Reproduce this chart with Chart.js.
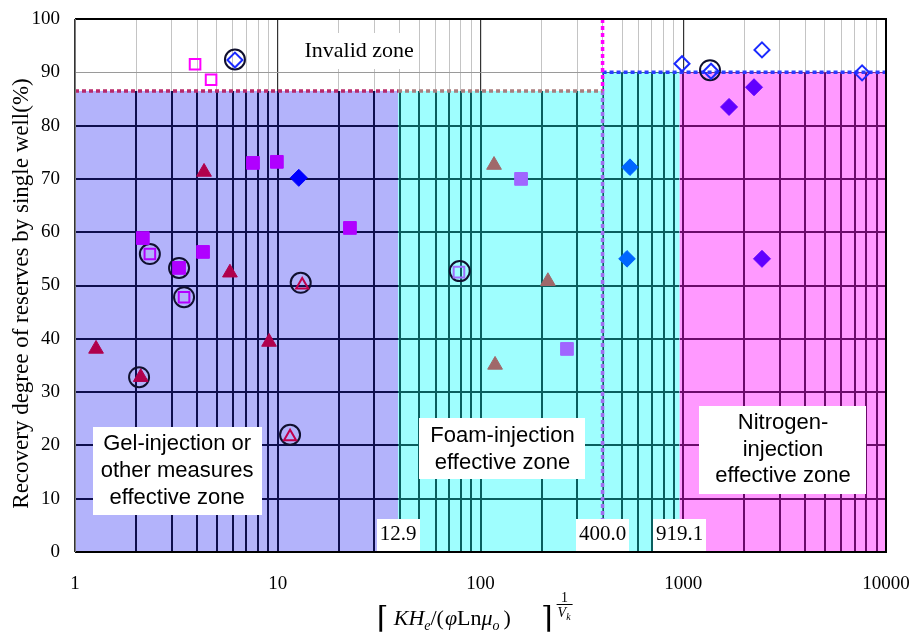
<!DOCTYPE html>
<html>
<head>
<meta charset="utf-8">
<script src="https://cdn.jsdelivr.net/npm/chart.js@4.4.1/dist/chart.umd.min.js"></script>
<style>
  html, body { margin: 0; padding: 0; background: #fff; }
</style>
</head>
<body>
<canvas id="recoveryChart" width="910" height="636"></canvas>
<script>
// ---- data ----
// x = [KHe/(phi Ln mu_o)]^(1/Vk), y = recovery degree (%)
const triFilledX  = [1.27, 2.11, 4.33, 5.81, 9.06];
const triFilledY  = [38.1, 32.8, 71.3, 52.4, 39.4];
const triBrownX   = [116.6, 215, 118];
const triBrownY   = [72.6, 50.8, 35.1];
const triOpenX    = [13.2, 11.5];
const triOpenY    = [50.1, 21.6];
const sqFilledX   = [2.16, 4.28, 3.26, 7.55, 9.9, 22.7];
const sqFilledY   = [58.9, 56.3, 53.3, 73.0, 73.2, 60.8];
const sqLightX    = [158.5, 267];
const sqLightY    = [70.0, 38.1];
const sqOpenPinkX = [3.91, 4.69];
const sqOpenPinkY = [91.5, 88.6];
const sqOpenX     = [2.34, 3.45];
const sqOpenY     = [55.9, 47.8];
const sqOpenLightX = [78.3];
const sqOpenLightY = [52.5];
const dmBlueX     = [12.7];
const dmBlueY     = [70.2];
const dmAzureX    = [546, 528];
const dmAzureY    = [72.2, 55.0];
const dmVioletX   = [1682, 2234, 2445];
const dmVioletY   = [83.5, 87.2, 55.0];
const dmOpenX     = [6.15, 986, 2445, 1371, 7620];
const dmOpenY     = [92.3, 91.6, 94.2, 90.2, 89.9];
const ringX       = [2.07, 2.34, 3.26, 3.45, 12.98, 11.5, 6.15, 79, 1355];
const ringY       = [32.8, 55.9, 53.3, 47.8, 50.5, 22.0, 92.4, 52.7, 90.4];

// zones: edges on x, top on y
const zoneEdges = [1, 39.2, 400, 960, 10000];
const zoneTops  = [86.5, 86.5, 90, 90];
const boundaryLabels = ['12.9', '400.0', '919.1'];
const boundaryLabelX = [39.2, 400, 960];

const xTickLabels = [1, 10, 100, 1000, 10000];
const yMin = 0, yMax = 100, yStep = 10;

// ---- styles ----
const zoneStyle = [
  { fill: '#b3b3fb', grid: '#0e0e4e' },
  { fill: '#9ffefe', grid: '#0a5e5e' },
  { fill: '#9ffefe', grid: '#0a5e5e' },
  { fill: '#ff99ff', grid: '#6a0a6a' }
];
const SERIF = '"Liberation Serif", "Times New Roman", serif';
const SANS = '"Liberation Sans", Arial, sans-serif';

const pts = (xs, ys) => xs.map((x, i) => ({ x: x, y: ys[i] }));
const isPow10 = v => Math.abs(Math.log10(v) - Math.round(Math.log10(v))) < 1e-9;

// all log grid positions 1..9 x 10^k
const xGridValues = [];
for (let k = 0; k < 4; k++) for (let m = 1; m < 10; m++) xGridValues.push(m * Math.pow(10, k));
xGridValues.push(10000);

function marker(label, data, style, color, radius, filled, order) {
  return {
    label: label, data: data, pointStyle: style, pointRadius: radius,
    pointBorderColor: color, pointBackgroundColor: filled ? color : 'rgba(0,0,0,0)',
    pointBorderWidth: filled ? 1 : 2, showLine: false, order: order || 1
  };
}
function boundary(data, color) {
  return {
    data: data, showLine: true, borderColor: color, borderWidth: 3.5,
    borderDash: [4, 3], pointRadius: 0, fill: false, order: 5
  };
}

const zonePlugin = {
  id: 'zones',
  beforeDatasetsDraw(chart) {
    const { ctx, scales: { x, y } } = chart;
    const b = y.getPixelForValue(yMin);
    ctx.save();
    for (let i = 0; i < zoneTops.length; i++) {
      const l = x.getPixelForValue(zoneEdges[i]);
      const r = x.getPixelForValue(zoneEdges[i + 1]);
      const t = y.getPixelForValue(zoneTops[i]);
      ctx.fillStyle = zoneStyle[i].fill;
      ctx.fillRect(l, t, r - l, b - t);
      ctx.save();
      ctx.beginPath();
      ctx.rect(l, t, r - l, b - t);
      ctx.clip();
      ctx.strokeStyle = zoneStyle[i].grid;
      ctx.lineWidth = 2;
      ctx.beginPath();
      x.ticks.forEach(tk => {
        const px = Math.round(x.getPixelForValue(tk.value));
        ctx.moveTo(px, t); ctx.lineTo(px, b);
      });
      y.ticks.forEach(tk => {
        const py = Math.round(y.getPixelForValue(tk.value));
        ctx.moveTo(l, py); ctx.lineTo(r, py);
      });
      ctx.stroke();
      ctx.restore();
    }
    ctx.restore();
  },
  afterDatasetsDraw(chart) {
    const { ctx, chartArea: a, scales: { x, y } } = chart;
    ctx.save();
    // frame
    ctx.strokeStyle = '#000';
    ctx.lineWidth = 2;
    ctx.beginPath();
    ctx.moveTo(a.left, a.top); ctx.lineTo(a.right, a.top); ctx.lineTo(a.right, a.bottom); ctx.lineTo(a.left, a.bottom);
    ctx.stroke();
    ctx.strokeStyle = '#7a7a7a';
    ctx.lineWidth = 1;
    ctx.beginPath();
    ctx.moveTo(a.left + 0.5, a.top); ctx.lineTo(a.left + 0.5, a.bottom);
    ctx.stroke();

    // text boxes
    function box(lines, xv, yv, font, lh, padX, padY) {
      ctx.font = font;
      const w = Math.max(...lines.map(s => ctx.measureText(s).width)) + padX * 2;
      const h = lines.length * lh + padY * 2;
      const cx = x.getPixelForValue(xv), cy = y.getPixelForValue(yv);
      ctx.fillStyle = '#fff';
      ctx.fillRect(Math.round(cx - w / 2), Math.round(cy - h / 2), Math.round(w), Math.round(h));
      ctx.fillStyle = '#000';
      ctx.textAlign = 'center';
      ctx.textBaseline = 'middle';
      lines.forEach((s, i) => ctx.fillText(s, cx, cy - h / 2 + padY + lh * (i + 0.5)));
    }
    box(['Invalid zone'], 25.2, 94.0, '22px ' + SERIF, 24, 2, 6);
    box(['Gel-injection or', 'other measures', 'effective zone'], 3.19, 15.2, '22px ' + SANS, 26.7, 8, 4);
    box(['Foam-injection', 'effective zone'], 128.4, 19.3, '22px ' + SANS, 26.7, 11, 4);
    box(['Nitrogen-', 'injection', 'effective zone'], 3104, 19.2, '22px ' + SANS, 26.7, 16, 4);
    boundaryLabels.forEach((s, i) => box([s], boundaryLabelX[i], 3.2, '21px ' + SERIF, 24, 3, 4));

    // y axis title
    ctx.save();
    ctx.translate(22, (a.top + a.bottom) / 2 + 8);
    ctx.rotate(-Math.PI / 2);
    ctx.font = '23px ' + SERIF;
    ctx.textAlign = 'center';
    ctx.textBaseline = 'middle';
    ctx.fillStyle = '#000';
    ctx.fillText('Recovery degree of reserves by single well(%)', 0, 0);
    ctx.restore();

    // x axis title: ⌈KHe/(φLnμo)⌉^(1/Vk)
    const base = a.bottom + 73;
    const pieces = [
      { t: '\u2308', f: '30px "DejaVu Serif"', dy: 3, gap: 5 },
      { t: 'KH', f: 'italic 22px ' + SERIF },
      { t: 'e', f: 'italic 14px ' + SERIF, dy: 5 },
      { t: '/', f: '22px ' + SERIF },
      { t: '(', f: '22px ' + SERIF, gap: 1 },
      { t: '\u03C6', f: 'italic 22px ' + SERIF },
      { t: 'Ln', f: '22px ' + SERIF },
      { t: '\u03BC', f: 'italic 22px ' + SERIF },
      { t: 'o', f: 'italic 14px ' + SERIF, dy: 5, gap: 4 },
      { t: ')', f: '22px ' + SERIF, gap: 30 },
      { t: '\u2309', f: '30px "DejaVu Serif"', dy: 3, gap: 3 }
    ];
    let px = a.left + 302;
    ctx.textAlign = 'left';
    ctx.textBaseline = 'alphabetic';
    ctx.fillStyle = '#000';
    pieces.forEach(p => {
      ctx.font = p.f;
      ctx.fillText(p.t, px, base + (p.dy || 0));
      px += ctx.measureText(p.t).width + (p.gap || 0);
    });
    // exponent fraction 1 / Vk
    ctx.font = '14px ' + SERIF;
    ctx.textAlign = 'center';
    const fx = px + 9;
    ctx.fillText('1', fx, base - 23);
    ctx.strokeStyle = '#000';
    ctx.lineWidth = 1;
    ctx.beginPath();
    ctx.moveTo(fx - 8, base - 20.5); ctx.lineTo(fx + 8, base - 20.5);
    ctx.stroke();
    ctx.textAlign = 'left';
    ctx.font = 'italic 14px ' + SERIF;
    ctx.fillText('V', fx - 7, base - 8);
    const vw = ctx.measureText('V').width;
    ctx.font = 'italic 10px ' + SERIF;
    ctx.fillText('k', fx - 7 + vw, base - 5);
    ctx.restore();
  }
};

new Chart(document.getElementById('recoveryChart').getContext('2d'), {
  type: 'scatter',
  data: {
    datasets: [
      boundary([{ x: zoneEdges[0], y: zoneTops[0] }, { x: zoneEdges[1], y: zoneTops[0] }], '#b8286a'),
      boundary([{ x: zoneEdges[1], y: zoneTops[1] }, { x: zoneEdges[2], y: zoneTops[1] }], '#a87c7c'),
      boundary([{ x: zoneEdges[2], y: yMax }, { x: zoneEdges[2], y: zoneTops[1] }], '#ff00ff'),
      boundary([{ x: zoneEdges[2], y: zoneTops[1] }, { x: zoneEdges[2], y: yMin }], '#a06cf0'),
      boundary([{ x: zoneEdges[2], y: zoneTops[2] }, { x: zoneEdges[4], y: zoneTops[2] }], '#2a3cff'),
      marker('tri', pts(triFilledX, triFilledY), 'triangle', '#b0004c', 8.5, true),
      marker('triBrown', pts(triBrownX, triBrownY), 'triangle', '#a0686a', 8.5, true),
      marker('triOpen', pts(triOpenX, triOpenY), 'triangle', '#c0004c', 7, false),
      marker('sq', pts(sqFilledX, sqFilledY), 'rect', '#b000ff', 9, true),
      marker('sqLight', pts(sqLightX, sqLightY), 'rect', '#a066ff', 9, true),
      marker('sqOpenPink', pts(sqOpenPinkX, sqOpenPinkY), 'rect', '#ff00ff', 7.5, false),
      marker('sqOpen', pts(sqOpenX, sqOpenY), 'rect', '#b400ff', 7.5, false),
      marker('sqOpenLight', pts(sqOpenLightX, sqOpenLightY), 'rect', '#a070ff', 7.5, false),
      marker('dmBlue', pts(dmBlueX, dmBlueY), 'rectRot', '#0000ff', 8.5, true),
      marker('dmAzure', pts(dmAzureX, dmAzureY), 'rectRot', '#0066ff', 8.3, true),
      marker('dmViolet', pts(dmVioletX, dmVioletY), 'rectRot', '#6000ff', 8.5, true),
      marker('dmOpen', pts(dmOpenX, dmOpenY), 'rectRot', '#1a2aff', 7.5, false),
      marker('ring', pts(ringX, ringY), 'circle', '#10102e', 10, false, 0)
    ]
  },
  options: {
    responsive: false,
    animation: false,
    devicePixelRatio: 1,
    layout: { padding: { top: 19, right: 24, bottom: 0, left: 0 } },
    plugins: { legend: { display: false }, tooltip: { enabled: false } },
    scales: {
      x: {
        type: 'logarithmic',
        min: 1, max: 10000,
        afterBuildTicks: axis => { axis.ticks = xGridValues.map(v => ({ value: v, major: isPow10(v) })); },
        afterFit: axis => { axis.height = 84; },
        ticks: {
          autoSkip: false, maxRotation: 0, padding: 0,
          color: '#000', font: { family: SERIF, size: 19 },
          callback: v => (xTickLabels.includes(v) ? String(v) : '')
        },
        grid: {
          drawTicks: true, tickLength: 21, tickColor: 'rgba(0,0,0,0)',
          color: c => (c.tick && isPow10(c.tick.value) ? '#333' : '#c4c4c4'),
          lineWidth: c => (c.tick && isPow10(c.tick.value) ? 1.2 : 1)
        },
        border: { display: false }
      },
      y: {
        min: yMin, max: yMax,
        afterFit: axis => { axis.width = 75; },
        ticks: { stepSize: yStep, padding: 0, color: '#000', font: { family: SERIF, size: 19 } },
        grid: { drawTicks: true, tickLength: 15, tickColor: 'rgba(0,0,0,0)', color: '#9a9a9a', lineWidth: 1 },
        border: { display: false }
      }
    }
  },
  plugins: [zonePlugin]
});
</script>
</body>
</html>
